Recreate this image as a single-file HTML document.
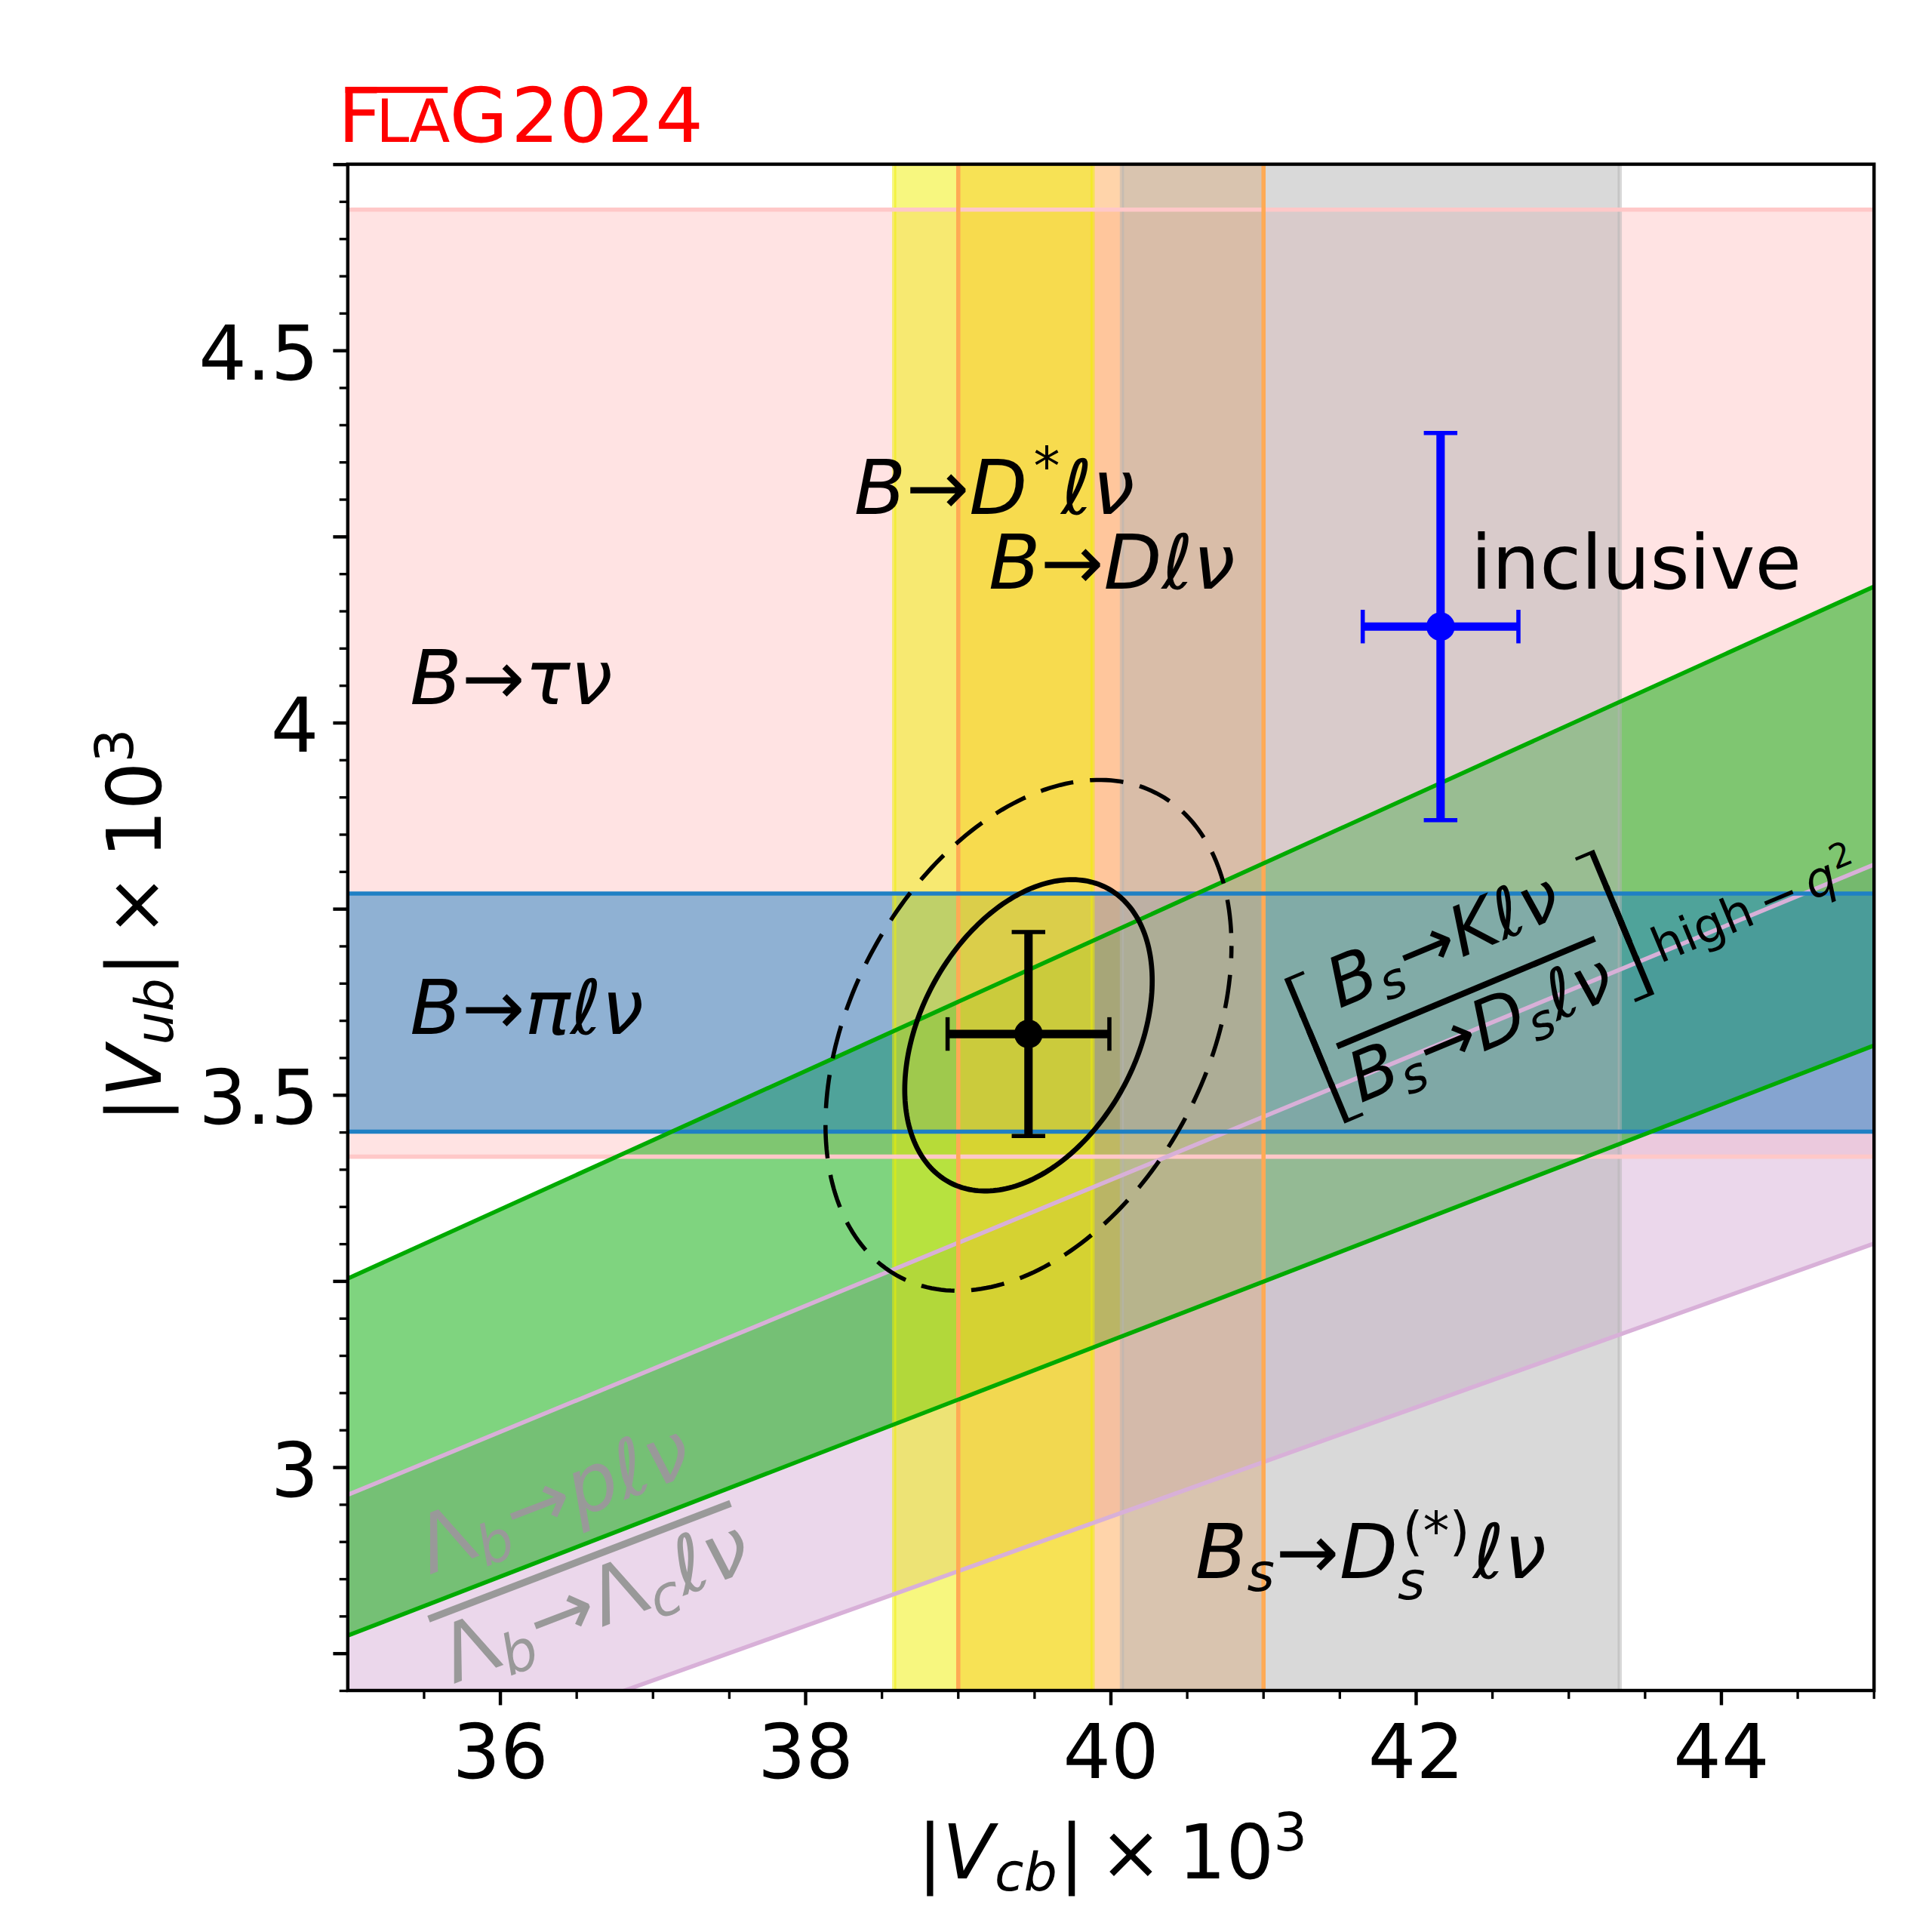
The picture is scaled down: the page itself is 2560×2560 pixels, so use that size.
<!DOCTYPE html>
<html><head><meta charset="utf-8"><title>FLAG 2024 Vub Vcb</title>
<style>html,body{margin:0;padding:0;background:#fff}svg{display:block}text{font-family:"DejaVu Sans","Liberation Sans",sans-serif;font-kerning:none;white-space:pre}.i{font-style:italic}svg{text-rendering:geometricPrecision}</style></head><body>
<svg width="2560" height="2560" viewBox="0 0 2560 2560">
<rect width="2560" height="2560" fill="#fff"/>
<defs><clipPath id="ax"><rect x="460.8" y="217.6" width="2022.3999999999999" height="2022.4"/></clipPath></defs>
<g clip-path="url(#ax)">
<rect x="450.8" y="277.78" width="2042.3999999999999" height="1254.87" fill="#ffc8c8" fill-opacity="0.5"/>
<polygon points="359.68,2407.48 2584.32,1611.61 2584.32,1103.93 359.68,2022.54" fill="#d8b0d8" fill-opacity="0.5"/>
<polygon points="359.68,2206.33 2584.32,1346.32 2584.32,731.36 359.68,1740.05" fill="#00aa00" fill-opacity="0.5"/>
<rect x="450.8" y="1184.01" width="2042.3999999999999" height="315.49" fill="#1f80c4" fill-opacity="0.5"/>
<rect x="1269.76" y="207.6" width="404.48" height="2042.4" fill="#ffaa55" fill-opacity="0.5"/>
<rect x="1184.82" y="207.6" width="262.91" height="2042.4" fill="#f0f000" fill-opacity="0.5"/>
<rect x="1486.56" y="207.6" width="659.71" height="2042.4" fill="#b3b3b3" fill-opacity="0.5"/>
<line y1="207.6" y2="2250.0" x1="1184.82" x2="1184.82" stroke="#f0f000" stroke-width="5.555555555555555" stroke-opacity="0.5"/>
<line y1="207.6" y2="2250.0" x1="1447.73" x2="1447.73" stroke="#f0f000" stroke-width="5.555555555555555" stroke-opacity="0.5"/>
<line y1="207.6" y2="2250.0" x1="1486.56" x2="1486.56" stroke="#b3b3b3" stroke-width="5.555555555555555" stroke-opacity="0.5"/>
<line y1="207.6" y2="2250.0" x1="2146.27" x2="2146.27" stroke="#b3b3b3" stroke-width="5.555555555555555" stroke-opacity="0.5"/>
<line x1="450.8" x2="2493.2" y1="1532.65" y2="1532.65" stroke="#ffc8c8" stroke-width="5.555555555555555" stroke-opacity="1"/>
<line x1="450.8" x2="2493.2" y1="277.78" y2="277.78" stroke="#ffc8c8" stroke-width="5.555555555555555" stroke-opacity="1"/>
<line x1="359.68" y1="2407.48" x2="2584.32" y2="1611.61" stroke="#d8b0d8" stroke-width="5.555555555555555" stroke-opacity="1"/>
<line x1="359.68" y1="2022.54" x2="2584.32" y2="1103.93" stroke="#d8b0d8" stroke-width="5.555555555555555" stroke-opacity="1"/>
<line y1="207.6" y2="2250.0" x1="1269.76" x2="1269.76" stroke="#ffaa55" stroke-width="5.555555555555555" stroke-opacity="1"/>
<line y1="207.6" y2="2250.0" x1="1674.24" x2="1674.24" stroke="#ffaa55" stroke-width="5.555555555555555" stroke-opacity="1"/>
<line x1="450.8" x2="2493.2" y1="1499.51" y2="1499.51" stroke="#1f80c4" stroke-width="5.555555555555555" stroke-opacity="1"/>
<line x1="450.8" x2="2493.2" y1="1184.01" y2="1184.01" stroke="#1f80c4" stroke-width="5.555555555555555" stroke-opacity="1"/>
<line x1="359.68" y1="2206.33" x2="2584.32" y2="1346.32" stroke="#00aa00" stroke-width="5.555555555555555" stroke-opacity="1"/>
<line x1="359.68" y1="1740.05" x2="2584.32" y2="731.36" stroke="#00aa00" stroke-width="5.555555555555555" stroke-opacity="1"/>
<path d="M1526.73,1299.65 L1526.68,1294.62 L1526.51,1289.63 L1526.23,1284.71 L1525.83,1279.85 L1525.33,1275.04 L1524.71,1270.31 L1523.99,1265.64 L1523.15,1261.05 L1522.20,1256.53 L1521.15,1252.10 L1519.98,1247.74 L1518.71,1243.47 L1517.33,1239.29 L1515.84,1235.20 L1514.25,1231.20 L1512.56,1227.30 L1510.76,1223.49 L1508.86,1219.79 L1506.87,1216.19 L1504.77,1212.70 L1502.57,1209.32 L1500.28,1206.05 L1497.90,1202.90 L1495.42,1199.86 L1492.85,1196.93 L1490.20,1194.13 L1487.45,1191.45 L1484.62,1188.89 L1481.71,1186.46 L1478.72,1184.16 L1475.64,1181.98 L1472.49,1179.94 L1469.26,1178.02 L1465.96,1176.24 L1462.59,1174.59 L1459.15,1173.08 L1455.65,1171.70 L1452.08,1170.46 L1448.45,1169.36 L1444.76,1168.40 L1441.02,1167.58 L1437.22,1166.90 L1433.37,1166.35 L1429.47,1165.95 L1425.53,1165.69 L1421.54,1165.57 L1417.52,1165.60 L1413.45,1165.76 L1409.35,1166.06 L1405.22,1166.51 L1401.06,1167.10 L1396.88,1167.82 L1392.67,1168.69 L1388.44,1169.70 L1384.19,1170.84 L1379.93,1172.12 L1375.65,1173.54 L1371.37,1175.10 L1367.08,1176.79 L1362.79,1178.61 L1358.50,1180.57 L1354.21,1182.66 L1349.93,1184.87 L1345.65,1187.22 L1341.39,1189.69 L1337.14,1192.29 L1332.91,1195.01 L1328.70,1197.85 L1324.52,1200.81 L1320.36,1203.88 L1316.23,1207.08 L1312.13,1210.38 L1308.07,1213.80 L1304.04,1217.32 L1300.05,1220.95 L1296.11,1224.68 L1292.21,1228.52 L1288.36,1232.45 L1284.56,1236.48 L1280.82,1240.60 L1277.13,1244.81 L1273.50,1249.11 L1269.93,1253.49 L1266.43,1257.95 L1262.99,1262.50 L1259.62,1267.11 L1256.32,1271.80 L1253.09,1276.56 L1249.94,1281.38 L1246.87,1286.26 L1243.87,1291.20 L1240.96,1296.20 L1238.13,1301.25 L1235.38,1306.35 L1232.73,1311.49 L1230.16,1316.68 L1227.68,1321.90 L1225.30,1327.16 L1223.01,1332.44 L1220.81,1337.76 L1218.72,1343.09 L1216.72,1348.45 L1214.82,1353.82 L1213.02,1359.21 L1211.33,1364.60 L1209.74,1370.00 L1208.25,1375.40 L1206.87,1380.80 L1205.60,1386.19 L1204.43,1391.57 L1203.38,1396.94 L1202.43,1402.29 L1201.59,1407.62 L1200.87,1412.93 L1200.25,1418.21 L1199.75,1423.45 L1199.35,1428.66 L1199.07,1433.83 L1198.90,1438.96 L1198.85,1444.05 L1198.90,1449.08 L1199.07,1454.06 L1199.35,1458.99 L1199.75,1463.85 L1200.25,1468.65 L1200.87,1473.39 L1201.59,1478.05 L1202.43,1482.64 L1203.38,1487.16 L1204.43,1491.60 L1205.60,1495.96 L1206.87,1500.23 L1208.25,1504.41 L1209.74,1508.50 L1211.33,1512.50 L1213.02,1516.40 L1214.82,1520.20 L1216.72,1523.90 L1218.72,1527.50 L1220.81,1530.99 L1223.01,1534.37 L1225.30,1537.64 L1227.68,1540.80 L1230.16,1543.84 L1232.73,1546.76 L1235.38,1549.56 L1238.13,1552.24 L1240.96,1554.80 L1243.87,1557.23 L1246.87,1559.54 L1249.94,1561.71 L1253.09,1563.76 L1256.32,1565.67 L1259.62,1567.46 L1262.99,1569.10 L1266.43,1570.62 L1269.93,1571.99 L1273.50,1573.23 L1277.13,1574.33 L1280.82,1575.29 L1284.56,1576.12 L1288.36,1576.80 L1292.21,1577.34 L1296.11,1577.74 L1300.05,1578.00 L1304.04,1578.12 L1308.07,1578.10 L1312.13,1577.94 L1316.23,1577.63 L1320.36,1577.18 L1324.52,1576.60 L1328.70,1575.87 L1332.91,1575.00 L1337.14,1574.00 L1341.39,1572.85 L1345.65,1571.57 L1349.93,1570.15 L1354.21,1568.60 L1358.50,1566.91 L1362.79,1565.08 L1367.08,1563.13 L1371.37,1561.04 L1375.65,1558.82 L1379.93,1556.48 L1384.19,1554.01 L1388.44,1551.41 L1392.67,1548.69 L1396.88,1545.85 L1401.06,1542.89 L1405.22,1539.81 L1409.35,1536.62 L1413.45,1533.31 L1417.52,1529.90 L1421.54,1526.37 L1425.53,1522.74 L1429.47,1519.01 L1433.37,1515.18 L1437.22,1511.24 L1441.02,1507.22 L1444.76,1503.09 L1448.45,1498.88 L1452.08,1494.59 L1455.65,1490.20 L1459.15,1485.74 L1462.59,1481.20 L1465.96,1476.58 L1469.26,1471.90 L1472.49,1467.14 L1475.64,1462.32 L1478.72,1457.43 L1481.71,1452.49 L1484.62,1447.49 L1487.45,1442.44 L1490.20,1437.35 L1492.85,1432.20 L1495.42,1427.02 L1497.90,1421.80 L1500.28,1416.54 L1502.57,1411.25 L1504.77,1405.94 L1506.87,1400.60 L1508.86,1395.25 L1510.76,1389.87 L1512.56,1384.49 L1514.25,1379.09 L1515.84,1373.69 L1517.33,1368.29 L1518.71,1362.90 L1519.98,1357.50 L1521.15,1352.12 L1522.20,1346.75 L1523.15,1341.40 L1523.99,1336.07 L1524.71,1330.77 L1525.33,1325.49 L1525.83,1320.24 L1526.23,1315.03 L1526.51,1309.86 L1526.68,1304.73 Z" fill="none" stroke="#000" stroke-width="6.67"/>
<path d="M1631.77,1253.39 L1631.68,1245.13 L1631.40,1236.96 L1630.94,1228.88 L1630.30,1220.90 L1629.47,1213.02 L1628.46,1205.25 L1627.27,1197.60 L1625.89,1190.06 L1624.34,1182.65 L1622.61,1175.37 L1620.69,1168.22 L1618.61,1161.22 L1616.34,1154.35 L1613.91,1147.64 L1611.30,1141.08 L1608.52,1134.68 L1605.57,1128.44 L1602.45,1122.37 L1599.18,1116.47 L1595.73,1110.74 L1592.13,1105.19 L1588.38,1099.83 L1584.46,1094.65 L1580.40,1089.66 L1576.19,1084.87 L1571.83,1080.27 L1567.33,1075.87 L1562.68,1071.67 L1557.90,1067.68 L1552.99,1063.90 L1547.94,1060.33 L1542.77,1056.98 L1537.48,1053.84 L1532.07,1050.91 L1526.54,1048.21 L1520.89,1045.73 L1515.14,1043.47 L1509.29,1041.44 L1503.33,1039.63 L1497.28,1038.05 L1491.14,1036.70 L1484.91,1035.58 L1478.59,1034.69 L1472.19,1034.03 L1465.73,1033.61 L1459.18,1033.41 L1452.58,1033.45 L1445.91,1033.72 L1439.19,1034.22 L1432.41,1034.95 L1425.58,1035.91 L1418.71,1037.11 L1411.81,1038.53 L1404.87,1040.18 L1397.90,1042.06 L1390.91,1044.16 L1383.89,1046.49 L1376.87,1049.04 L1369.83,1051.81 L1362.79,1054.81 L1355.75,1058.02 L1348.71,1061.44 L1341.69,1065.08 L1334.67,1068.92 L1327.68,1072.98 L1320.71,1077.24 L1313.77,1081.70 L1306.87,1086.36 L1300.00,1091.22 L1293.17,1096.27 L1286.40,1101.51 L1279.67,1106.93 L1273.00,1112.53 L1266.40,1118.31 L1259.86,1124.27 L1253.39,1130.40 L1246.99,1136.69 L1240.68,1143.14 L1234.44,1149.75 L1228.30,1156.51 L1222.25,1163.42 L1216.29,1170.47 L1210.44,1177.66 L1204.69,1184.98 L1199.05,1192.43 L1193.52,1200.01 L1188.10,1207.70 L1182.81,1215.50 L1177.64,1223.41 L1172.59,1231.43 L1167.68,1239.54 L1162.90,1247.74 L1158.26,1256.02 L1153.75,1264.39 L1149.39,1272.82 L1145.18,1281.33 L1141.12,1289.90 L1137.20,1298.52 L1133.45,1307.20 L1129.85,1315.91 L1126.41,1324.67 L1123.13,1333.46 L1120.01,1342.28 L1117.06,1351.11 L1114.28,1359.96 L1111.67,1368.82 L1109.24,1377.68 L1106.97,1386.54 L1104.89,1395.38 L1102.97,1404.21 L1101.24,1413.02 L1099.69,1421.80 L1098.31,1430.55 L1097.12,1439.25 L1096.11,1447.91 L1095.28,1456.52 L1094.64,1465.06 L1094.18,1473.55 L1093.90,1481.97 L1093.81,1490.31 L1093.90,1498.56 L1094.18,1506.74 L1094.64,1514.81 L1095.28,1522.80 L1096.11,1530.67 L1097.12,1538.44 L1098.31,1546.10 L1099.69,1553.63 L1101.24,1561.04 L1102.97,1568.33 L1104.89,1575.47 L1106.97,1582.48 L1109.24,1589.34 L1111.67,1596.05 L1114.28,1602.61 L1117.06,1609.02 L1120.01,1615.26 L1123.13,1621.33 L1126.41,1627.23 L1129.85,1632.96 L1133.45,1638.50 L1137.20,1643.87 L1141.12,1649.05 L1145.18,1654.03 L1149.39,1658.83 L1153.75,1663.43 L1158.26,1667.83 L1162.90,1672.02 L1167.68,1676.01 L1172.59,1679.79 L1177.64,1683.36 L1182.81,1686.72 L1188.10,1689.86 L1193.52,1692.78 L1199.05,1695.49 L1204.69,1697.97 L1210.44,1700.23 L1216.29,1702.26 L1222.25,1704.06 L1228.30,1705.64 L1234.44,1706.99 L1240.68,1708.11 L1246.99,1709.00 L1253.39,1709.66 L1259.86,1710.09 L1266.40,1710.28 L1273.00,1710.25 L1279.67,1709.98 L1286.40,1709.48 L1293.17,1708.75 L1300.00,1707.78 L1306.87,1706.59 L1313.77,1705.17 L1320.71,1703.52 L1327.68,1701.64 L1334.67,1699.54 L1341.69,1697.21 L1348.71,1694.66 L1355.75,1691.88 L1362.79,1688.89 L1369.83,1685.68 L1376.87,1682.26 L1383.89,1678.62 L1390.91,1674.77 L1397.90,1670.72 L1404.87,1666.46 L1411.81,1661.99 L1418.71,1657.33 L1425.58,1652.48 L1432.41,1647.43 L1439.19,1642.19 L1445.91,1636.77 L1452.58,1631.16 L1459.18,1625.38 L1465.73,1619.42 L1472.19,1613.30 L1478.59,1607.01 L1484.91,1600.56 L1491.14,1593.95 L1497.28,1587.19 L1503.33,1580.28 L1509.29,1573.23 L1515.14,1566.04 L1520.89,1558.71 L1526.54,1551.26 L1532.07,1543.69 L1537.48,1536.00 L1542.77,1528.19 L1547.94,1520.28 L1552.99,1512.27 L1557.90,1504.16 L1562.68,1495.96 L1567.33,1487.67 L1571.83,1479.31 L1576.19,1470.87 L1580.40,1462.37 L1584.46,1453.80 L1588.38,1445.17 L1592.13,1436.50 L1595.73,1427.78 L1599.18,1419.03 L1602.45,1410.24 L1605.57,1401.42 L1608.52,1392.58 L1611.30,1383.73 L1613.91,1374.88 L1616.34,1366.02 L1618.61,1357.16 L1620.69,1348.31 L1622.61,1339.48 L1624.34,1330.68 L1625.89,1321.90 L1627.27,1313.15 L1628.46,1304.45 L1629.47,1295.79 L1630.30,1287.18 L1630.94,1278.63 L1631.40,1270.15 L1631.68,1261.73 Z" fill="none" stroke="#000" stroke-width="5.56" stroke-dasharray="44.44 22.22" stroke-dashoffset="-17"/>
<g stroke="#000" fill="#000">
<line x1="1255.60" x2="1469.98" y1="1370.07" y2="1370.07" stroke-width="11.11"/>
<line x1="1362.79" x2="1362.79" y1="1505.23" y2="1234.92" stroke-width="11.11"/>
<line x1="1255.60" x2="1255.60" y1="1347.85" y2="1392.29" stroke-width="5.56"/>
<line x1="1469.98" x2="1469.98" y1="1347.85" y2="1392.29" stroke-width="5.56"/>
<line y1="1505.23" y2="1505.23" x1="1340.57" x2="1385.01" stroke-width="5.56"/>
<line y1="1234.92" y2="1234.92" x1="1340.57" x2="1385.01" stroke-width="5.56"/>
<circle cx="1362.79" cy="1370.07" r="18.89" stroke="none"/>
</g>
<g stroke="#0000ff" fill="#0000ff">
<line x1="1805.70" x2="2011.98" y1="830.24" y2="830.24" stroke-width="11.11"/>
<line x1="1908.84" x2="1908.84" y1="1086.74" y2="573.74" stroke-width="11.11"/>
<line x1="1805.70" x2="1805.70" y1="808.02" y2="852.46" stroke-width="5.56"/>
<line x1="2011.98" x2="2011.98" y1="808.02" y2="852.46" stroke-width="5.56"/>
<line y1="1086.74" y2="1086.74" x1="1886.62" x2="1931.06" stroke-width="5.56"/>
<line y1="573.74" y2="573.74" x1="1886.62" x2="1931.06" stroke-width="5.56"/>
<circle cx="1908.84" cy="830.24" r="18.89" stroke="none"/>
</g>
</g>
<rect x="460.8" y="217.6" width="2022.3999999999999" height="2022.4" fill="none" stroke="#000" stroke-width="4.44"/>
<g stroke="#000">
<line x1="561.92" x2="561.92" y1="2240.0" y2="2251.11" stroke-width="3.33"/>
<line x1="663.04" x2="663.04" y1="2240.0" y2="2259.44" stroke-width="4.44"/>
<line x1="764.16" x2="764.16" y1="2240.0" y2="2251.11" stroke-width="3.33"/>
<line x1="865.28" x2="865.28" y1="2240.0" y2="2251.11" stroke-width="3.33"/>
<line x1="966.40" x2="966.40" y1="2240.0" y2="2251.11" stroke-width="3.33"/>
<line x1="1067.52" x2="1067.52" y1="2240.0" y2="2259.44" stroke-width="4.44"/>
<line x1="1168.64" x2="1168.64" y1="2240.0" y2="2251.11" stroke-width="3.33"/>
<line x1="1269.76" x2="1269.76" y1="2240.0" y2="2251.11" stroke-width="3.33"/>
<line x1="1370.88" x2="1370.88" y1="2240.0" y2="2251.11" stroke-width="3.33"/>
<line x1="1472.00" x2="1472.00" y1="2240.0" y2="2259.44" stroke-width="4.44"/>
<line x1="1573.12" x2="1573.12" y1="2240.0" y2="2251.11" stroke-width="3.33"/>
<line x1="1674.24" x2="1674.24" y1="2240.0" y2="2251.11" stroke-width="3.33"/>
<line x1="1775.36" x2="1775.36" y1="2240.0" y2="2251.11" stroke-width="3.33"/>
<line x1="1876.48" x2="1876.48" y1="2240.0" y2="2259.44" stroke-width="4.44"/>
<line x1="1977.60" x2="1977.60" y1="2240.0" y2="2251.11" stroke-width="3.33"/>
<line x1="2078.72" x2="2078.72" y1="2240.0" y2="2251.11" stroke-width="3.33"/>
<line x1="2179.84" x2="2179.84" y1="2240.0" y2="2251.11" stroke-width="3.33"/>
<line x1="2280.96" x2="2280.96" y1="2240.0" y2="2259.44" stroke-width="4.44"/>
<line x1="2382.08" x2="2382.08" y1="2240.0" y2="2251.11" stroke-width="3.33"/>
<line x1="2483.20" x2="2483.20" y1="2240.0" y2="2251.11" stroke-width="3.33"/>
<line y1="2240.50" y2="2240.50" x1="460.8" x2="449.69" stroke-width="3.33"/>
<line y1="2191.17" y2="2191.17" x1="460.8" x2="441.36" stroke-width="4.44"/>
<line y1="2141.85" y2="2141.85" x1="460.8" x2="449.69" stroke-width="3.33"/>
<line y1="2092.52" y2="2092.52" x1="460.8" x2="449.69" stroke-width="3.33"/>
<line y1="2043.19" y2="2043.19" x1="460.8" x2="449.69" stroke-width="3.33"/>
<line y1="1993.87" y2="1993.87" x1="460.8" x2="449.69" stroke-width="3.33"/>
<line y1="1944.54" y2="1944.54" x1="460.8" x2="441.36" stroke-width="4.44"/>
<line y1="1895.21" y2="1895.21" x1="460.8" x2="449.69" stroke-width="3.33"/>
<line y1="1845.89" y2="1845.89" x1="460.8" x2="449.69" stroke-width="3.33"/>
<line y1="1796.56" y2="1796.56" x1="460.8" x2="449.69" stroke-width="3.33"/>
<line y1="1747.23" y2="1747.23" x1="460.8" x2="449.69" stroke-width="3.33"/>
<line y1="1697.90" y2="1697.90" x1="460.8" x2="441.36" stroke-width="4.44"/>
<line y1="1648.58" y2="1648.58" x1="460.8" x2="449.69" stroke-width="3.33"/>
<line y1="1599.25" y2="1599.25" x1="460.8" x2="449.69" stroke-width="3.33"/>
<line y1="1549.92" y2="1549.92" x1="460.8" x2="449.69" stroke-width="3.33"/>
<line y1="1500.60" y2="1500.60" x1="460.8" x2="449.69" stroke-width="3.33"/>
<line y1="1451.27" y2="1451.27" x1="460.8" x2="441.36" stroke-width="4.44"/>
<line y1="1401.94" y2="1401.94" x1="460.8" x2="449.69" stroke-width="3.33"/>
<line y1="1352.62" y2="1352.62" x1="460.8" x2="449.69" stroke-width="3.33"/>
<line y1="1303.29" y2="1303.29" x1="460.8" x2="449.69" stroke-width="3.33"/>
<line y1="1253.96" y2="1253.96" x1="460.8" x2="449.69" stroke-width="3.33"/>
<line y1="1204.64" y2="1204.64" x1="460.8" x2="441.36" stroke-width="4.44"/>
<line y1="1155.31" y2="1155.31" x1="460.8" x2="449.69" stroke-width="3.33"/>
<line y1="1105.98" y2="1105.98" x1="460.8" x2="449.69" stroke-width="3.33"/>
<line y1="1056.66" y2="1056.66" x1="460.8" x2="449.69" stroke-width="3.33"/>
<line y1="1007.33" y2="1007.33" x1="460.8" x2="449.69" stroke-width="3.33"/>
<line y1="958.00" y2="958.00" x1="460.8" x2="441.36" stroke-width="4.44"/>
<line y1="908.68" y2="908.68" x1="460.8" x2="449.69" stroke-width="3.33"/>
<line y1="859.35" y2="859.35" x1="460.8" x2="449.69" stroke-width="3.33"/>
<line y1="810.02" y2="810.02" x1="460.8" x2="449.69" stroke-width="3.33"/>
<line y1="760.70" y2="760.70" x1="460.8" x2="449.69" stroke-width="3.33"/>
<line y1="711.37" y2="711.37" x1="460.8" x2="441.36" stroke-width="4.44"/>
<line y1="662.04" y2="662.04" x1="460.8" x2="449.69" stroke-width="3.33"/>
<line y1="612.71" y2="612.71" x1="460.8" x2="449.69" stroke-width="3.33"/>
<line y1="563.39" y2="563.39" x1="460.8" x2="449.69" stroke-width="3.33"/>
<line y1="514.06" y2="514.06" x1="460.8" x2="449.69" stroke-width="3.33"/>
<line y1="464.73" y2="464.73" x1="460.8" x2="441.36" stroke-width="4.44"/>
<line y1="415.41" y2="415.41" x1="460.8" x2="449.69" stroke-width="3.33"/>
<line y1="366.08" y2="366.08" x1="460.8" x2="449.69" stroke-width="3.33"/>
<line y1="316.75" y2="316.75" x1="460.8" x2="449.69" stroke-width="3.33"/>
<line y1="267.43" y2="267.43" x1="460.8" x2="449.69" stroke-width="3.33"/>
<line y1="218.10" y2="218.10" x1="460.8" x2="441.36" stroke-width="4.44"/>
</g>
<g font-size="100" fill="#000">
<text x="663.04" y="2356.3" text-anchor="middle">36</text>
<text x="1067.52" y="2356.3" text-anchor="middle">38</text>
<text x="1472.00" y="2356.3" text-anchor="middle">40</text>
<text x="1876.48" y="2356.3" text-anchor="middle">42</text>
<text x="2280.96" y="2356.3" text-anchor="middle">44</text>
<text x="422.41" y="1982.54" text-anchor="end">3</text>
<text x="422.41" y="1489.27" text-anchor="end">3.5</text>
<text x="422.41" y="996.00" text-anchor="end">4</text>
<text x="422.41" y="502.73" text-anchor="end">4.5</text>
</g>
<g fill="#ff0000">
<text x="447.80" y="187.60" font-size="100">F</text>
<text x="498.30" y="187.60" font-size="79">LA</text>
<text x="595.40" y="187.60" font-size="100">G</text>
<text x="677.30" y="187.60" font-size="100">2024</text>
<rect x="457.6" y="115.1" width="135.6" height="8.0"/>
</g>
<g fill="#000">
<text x="1131.80" y="680.80" font-size="100" class="i">B</text>
<text x="1200.40" y="680.80" font-size="100">→</text>
<text x="1284.20" y="680.80" font-size="100" class="i">D</text>
<text x="1369.50" y="641.90" font-size="70">*</text>
<text x="1406.10" y="680.80" font-size="100" class="i">ℓν</text>
<text x="1310.10" y="780.10" font-size="100" class="i">B</text>
<text x="1378.70" y="780.10" font-size="100">→</text>
<text x="1462.50" y="780.10" font-size="100" class="i">Dℓν</text>
<text x="543.20" y="932.60" font-size="100" class="i">B</text>
<text x="611.80" y="932.60" font-size="100">→</text>
<text x="695.60" y="932.60" font-size="100" class="i">τν</text>
<text x="543.20" y="1369.70" font-size="100" class="i">B</text>
<text x="611.80" y="1369.70" font-size="100">→</text>
<text x="695.60" y="1369.70" font-size="100" class="i">πℓν</text>
<text x="1584.10" y="2091.30" font-size="100" class="i">B</text>
<text x="1652.50" y="2107.60" font-size="70" class="i">s</text>
<text x="1690.60" y="2091.30" font-size="100">→</text>
<text x="1775.10" y="2091.30" font-size="100" class="i">D</text>
<text x="1852.10" y="2118.80" font-size="70" class="i">s</text>
<text x="1858.30" y="2053.30" font-size="70">(*)</text>
<text x="1951.80" y="2091.30" font-size="100" class="i">ℓν</text>
<text x="1949.10" y="780.20" font-size="100">inclusive</text>
<text x="1215.40" y="2489.20" font-size="100">|</text>
<text x="1248.70" y="2489.20" font-size="100" class="i">V</text>
<text x="1318.00" y="2504.80" font-size="70" class="i">cb</text>
<text x="1403.20" y="2489.20" font-size="100">|</text>
<text x="1456.40" y="2489.20" font-size="100">×</text>
<text x="1560.90" y="2489.20" font-size="100">10</text>
<text x="1687.50" y="2451.50" font-size="70">3</text>
<g transform="translate(213.4 1487.6) rotate(-90)">
<text x="0.00" y="0.00" font-size="100">|</text>
<text x="33.50" y="0.00" font-size="100" class="i">V</text>
<text x="102.80" y="15.60" font-size="70" class="i">ub</text>
<text x="193.00" y="0.00" font-size="100">|</text>
<text x="246.20" y="0.00" font-size="100">×</text>
<text x="350.70" y="0.00" font-size="100">10</text>
<text x="477.30" y="-37.70" font-size="70">3</text>
</g>
</g>
<g transform="translate(1735.64 1434.31) rotate(-22.650)" fill="#000">
<text transform="translate(14.14 -95.99) scale(1 0.56)" font-size="84.0">⎡</text>
<text transform="translate(14.14 56.47) scale(1 0.56)" font-size="84.0">⎣</text>
<text transform="translate(14.14 -44.79) scale(1 0.56)" font-size="84.0">⎢</text>
<text transform="translate(14.14 -19.61) scale(1 0.56)" font-size="84.0">⎢</text>
<text transform="translate(14.14 5.57) scale(1 0.56)" font-size="84.0">⎢</text>
<text x="73.86" y="-75.17" font-size="91.39" class="i">B</text>
<text x="136.56" y="-59.86" font-size="63.97" class="i">s</text>
<text x="172.44" y="-75.17" font-size="91.39">→</text>
<text x="249.01" y="-75.17" font-size="91.39" class="i">K</text>
<text x="308.94" y="-75.17" font-size="91.39" class="i">ℓ</text>
<text x="346.69" y="-75.17" font-size="91.39" class="i">ν</text>
<text x="51.64" y="51.14" font-size="91.39" class="i">B</text>
<text x="114.33" y="66.46" font-size="63.97" class="i">s</text>
<text x="150.21" y="51.14" font-size="91.39">→</text>
<text x="226.79" y="51.14" font-size="91.39" class="i">D</text>
<text x="297.16" y="66.46" font-size="63.97" class="i">s</text>
<text x="333.04" y="51.14" font-size="91.39" class="i">ℓ</text>
<text x="370.79" y="51.14" font-size="91.39" class="i">ν</text>
<text transform="translate(431.62 -95.99) scale(1 0.56)" font-size="84.0">⎤</text>
<text transform="translate(431.62 56.47) scale(1 0.56)" font-size="84.0">⎦</text>
<text transform="translate(431.62 -44.79) scale(1 0.56)" font-size="84.0">⎥</text>
<text transform="translate(431.62 -19.61) scale(1 0.56)" font-size="84.0">⎥</text>
<text transform="translate(431.62 5.57) scale(1 0.56)" font-size="84.0">⎥</text>
<text x="488.97" y="33.34" font-size="63.97">h</text>
<text x="529.51" y="33.34" font-size="63.97">i</text>
<text x="547.29" y="33.34" font-size="63.97">g</text>
<text x="587.89" y="33.34" font-size="63.97">h</text>
<text x="640.90" y="33.34" font-size="63.97">−</text>
<text x="706.97" y="33.34" font-size="63.97" class="i">q</text>
<text x="750.61" y="8.32" font-size="44.78">2</text>
<rect x="51.64" y="-34.45" width="370.20" height="8.16"/>
</g>
<g transform="translate(580.15 2177.22) rotate(-20.970)" fill="#999999">
<text x="22.22" y="-88.71" font-size="105.00">Λ</text>
<text x="95.06" y="-71.48" font-size="73.50" class="i">b</text>
<text x="144.58" y="-88.71" font-size="105.00">→</text>
<text x="232.56" y="-88.71" font-size="105.00" class="i">p</text>
<text x="299.21" y="-88.71" font-size="105.00" class="i">ℓ</text>
<text x="342.59" y="-88.71" font-size="105.00" class="i">ν</text>
<text x="0.00" y="57.94" font-size="105.00">Λ</text>
<text x="72.83" y="75.17" font-size="73.50" class="i">b</text>
<text x="122.36" y="57.94" font-size="105.00">→</text>
<text x="210.34" y="57.94" font-size="105.00">Λ</text>
<text x="283.17" y="75.17" font-size="73.50" class="i">c</text>
<text x="326.45" y="57.94" font-size="105.00" class="i">ℓ</text>
<text x="369.83" y="57.94" font-size="105.00" class="i">ν</text>
<rect x="0.00" y="-38.77" width="428.48" height="9.38"/>
</g>
</svg></body></html>
